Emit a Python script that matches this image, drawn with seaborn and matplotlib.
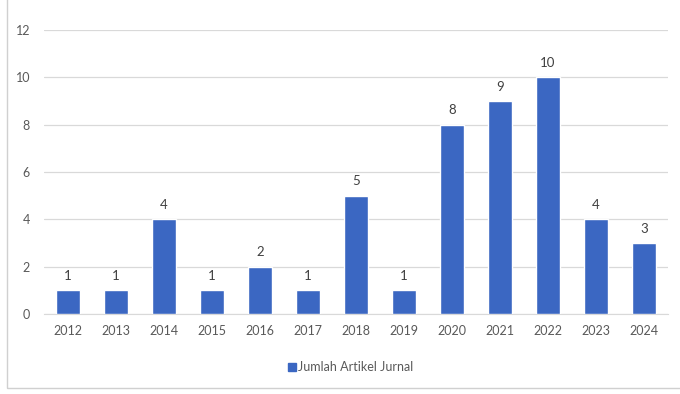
import matplotlib
matplotlib.use("Agg")
import matplotlib.pyplot as plt
import seaborn as sns
import pandas as pd
from matplotlib.lines import Line2D
from matplotlib.patches import Rectangle

# Data
years = ["2012", "2013", "2014", "2015", "2016", "2017", "2018",
         "2019", "2020", "2021", "2022", "2023", "2024"]
counts = [1, 1, 4, 1, 2, 1, 5, 1, 8, 9, 10, 4, 3]
series_name = "Jumlah Artikel Jurnal"

df = pd.DataFrame({"Tahun": years, "Jumlah": counts})

sns.set_style("white")
plt.rcParams["font.family"] = ["Lato", "DejaVu Sans"]
text_color = "#595959"
bar_color = "#3B67C2"

fig = plt.figure(figsize=(6.8, 3.94), dpi=100)
ax = fig.add_axes([44 / 680, 80 / 394, 624 / 680, 284 / 394])

sns.barplot(data=df, x="Tahun", y="Jumlah", color=bar_color, width=0.5,
            saturation=1, ax=ax, zorder=3)
ax.bar_label(ax.containers[0], padding=6, fontsize=9.5, color="#404040")

ax.set_ylim(0, 12)
ax.set_yticks(range(0, 13, 2))
ax.set_xlim(-0.5, len(years) - 0.5)
ax.set_xlabel("")
ax.set_ylabel("")
ax.grid(axis="y", color="#D9D9D9", linewidth=0.9, zorder=0)
for side in ["top", "right", "left"]:
    ax.spines[side].set_visible(False)
ax.spines["bottom"].set_color("#D9D9D9")
ax.tick_params(axis="both", length=0, labelsize=9, labelcolor=text_color)
ax.tick_params(axis="y", pad=10)
ax.tick_params(axis="x", pad=8)

handle = Line2D([], [], marker="s", linestyle="", markersize=6,
                color=bar_color)
fig.legend([handle], [series_name], loc="center", bbox_to_anchor=(350 / 680, 1 - 367 / 394),
           frameon=False, fontsize=9, labelcolor=text_color,
           handletextpad=0.1, handlelength=0.8)

# chart border
fig.patches.append(Rectangle((7 / 680, 6 / 394), 1.2, 1.2, transform=fig.transFigure,
                             fill=False, edgecolor="#D0D0D0", linewidth=1))

fig.savefig("out.png", dpi=100)
